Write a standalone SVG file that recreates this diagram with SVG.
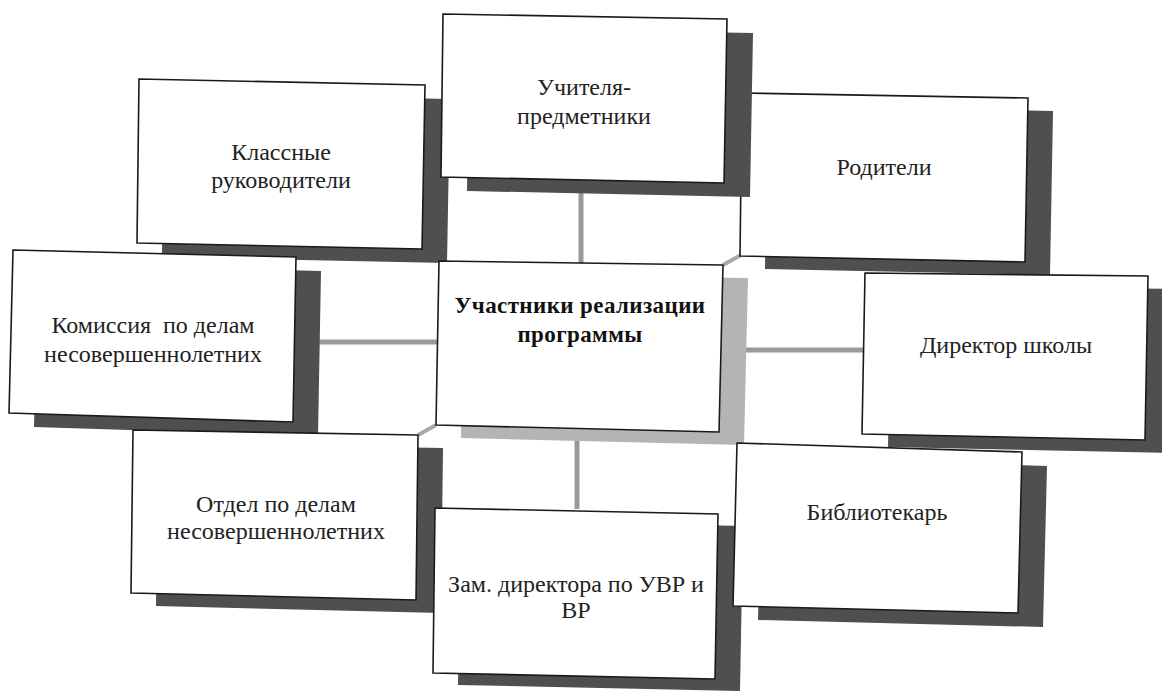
<svg xmlns="http://www.w3.org/2000/svg" width="1162" height="692" viewBox="0 0 1162 692">
<style>
.bg{fill:#ffffff}
.box{fill:#ffffff;stroke:#1a1a1a;stroke-width:1.6}
.shadow{fill:#4f4f4f}
.shadow-light{fill:#b4b4b4}
.conn{stroke:#9a9a9a;stroke-width:5;fill:none}
.diag{stroke:#a8a8a8;stroke-width:4;fill:none}
.t{font-family:"Liberation Serif","Times New Roman",serif;font-size:24px;fill:#222;text-anchor:middle}
.tb{font-family:"Liberation Serif","Times New Roman",serif;font-size:23px;font-weight:bold;fill:#111;text-anchor:middle;letter-spacing:0.4px}
</style>
<rect class="bg" x="0" y="0" width="1162" height="692"/>
<g id="connectors">
<line class="conn" x1="581" y1="183" x2="581" y2="263"/>
<line class="conn" x1="577" y1="432" x2="577" y2="509"/>
<line class="conn" x1="300" y1="342" x2="438" y2="342"/>
<line class="conn" x1="720" y1="350" x2="863" y2="350"/>
<line class="diag" x1="723" y1="265" x2="741" y2="255"/>
<line class="diag" x1="436" y1="425" x2="418" y2="435"/>
</g>
<g id="node-klassnye">
<polygon class="shadow" points="139,79 425,85 422,249 137,243" transform="translate(25,14)"/>
<polygon class="box" points="139,79 425,85 422,249 137,243"/>
<text class="t" x="281" y="160">Классные</text>
<text class="t" x="281" y="188">руководители</text>
</g>
<g id="node-roditeli">
<polygon class="shadow" points="742,93 1028,98 1025,262 740,256" transform="translate(25,13)"/>
<polygon class="box" points="742,93 1028,98 1025,262 740,256"/>
<text class="t" x="884" y="175">Родители</text>
</g>
<g id="node-uchitelya">
<polygon class="shadow" points="443,14 727,19 724,183 441,177" transform="translate(26,14)"/>
<polygon class="box" points="443,14 727,19 724,183 441,177"/>
<text class="t" x="584" y="95">Учителя-</text>
<text class="t" x="584" y="124">предметники</text>
</g>
<g id="node-komissiya">
<polygon class="shadow" points="13,250 296,257 293,422 9,413" transform="translate(25,14)"/>
<polygon class="box" points="13,250 296,257 293,422 9,413"/>
<text class="t" x="153" y="333" xml:space="preserve">Комиссия  по делам</text>
<text class="t" x="153" y="362">несовершеннолетних</text>
</g>
<g id="node-center">
<polygon class="shadow-light" points="439,261 723,265 719,432 436,425" transform="translate(25,13)"/>
<polygon class="box" points="439,261 723,265 719,432 436,425"/>
<text class="tb" x="580" y="313">Участники реализации</text>
<text class="tb" x="580" y="342">программы</text>
</g>
<g id="node-otdel">
<polygon class="shadow" points="133,430 418,435 416,600 131,593" transform="translate(25,13)"/>
<polygon class="box" points="133,430 418,435 416,600 131,593"/>
<text class="t" x="276" y="512">Отдел по делам</text>
<text class="t" x="276" y="539">несовершеннолетних</text>
</g>
<g id="node-zam">
<polygon class="shadow" points="435,508 718,514 715,679 433,673" transform="translate(25,12)"/>
<polygon class="box" points="435,508 718,514 715,679 433,673"/>
<text class="t" x="576" y="592">Зам. директора по УВР и</text>
<text class="t" x="576" y="618">ВР</text>
</g>
<g id="node-bibliotekar">
<polygon class="shadow" points="737,443 1022,452 1018,613 733,606" transform="translate(25,14)"/>
<polygon class="box" points="737,443 1022,452 1018,613 733,606"/>
<text class="t" x="877" y="520">Библиотекарь</text>
</g>
<g id="node-direktor">
<polygon class="shadow" points="865,273 1148,276 1145,440 862,434" transform="translate(26,13)"/>
<polygon class="box" points="865,273 1148,276 1145,440 862,434"/>
<text class="t" x="1006" y="353">Директор школы</text>
</g>
</svg>
